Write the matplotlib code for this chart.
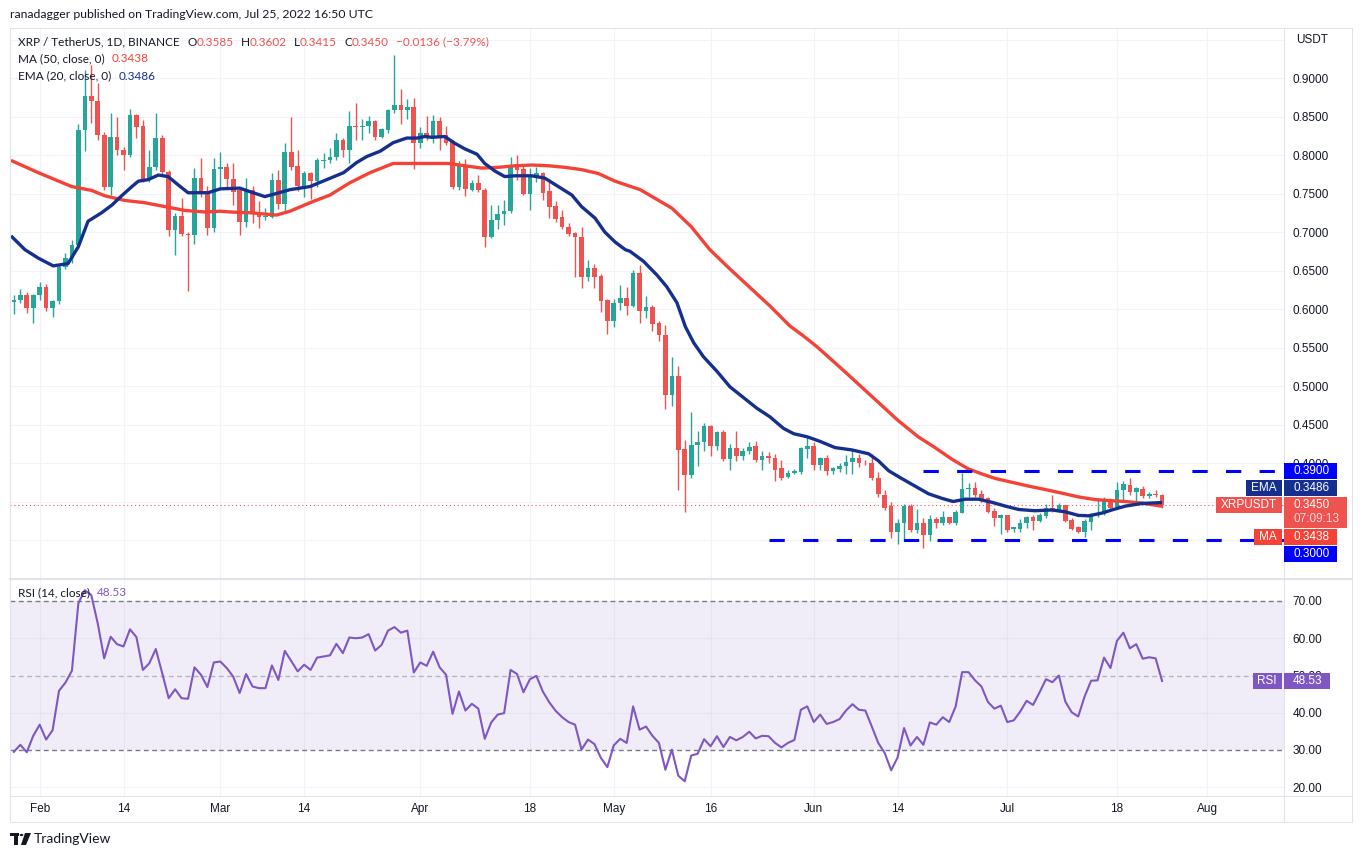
import numpy as np
import pandas as pd
import matplotlib
matplotlib.use("Agg")
import matplotlib.pyplot as plt
import matplotlib.dates as mdates
from matplotlib.patches import Rectangle, Polygon, Circle
from matplotlib.lines import Line2D

# ---------------- data ----------------
header = "ranadagger published on TradingView.com, Jul 25, 2022 16:50 UTC"
symbol_title = "XRP / TetherUS, 1D, BINANCE"
first_day = "2022-01-28"

opens = [0.609, 0.612, 0.618, 0.601,
         # Feb
         0.618, 0.629, 0.601, 0.611, 0.655, 0.666, 0.6835, 0.833, 0.877, 0.870,
         0.8255, 0.759, 0.823, 0.807, 0.800, 0.852, 0.838, 0.769, 0.784, 0.822,
         0.7775, 0.702, 0.721, 0.698, 0.696, 0.770, 0.7515, 0.705,
         # Mar
         0.782, 0.785, 0.769, 0.754, 0.7125, 0.754, 0.726, 0.719, 0.720, 0.767,
         0.736, 0.804, 0.786, 0.760, 0.776, 0.766, 0.792, 0.793, 0.797, 0.820,
         0.806, 0.838, 0.837, 0.838, 0.844, 0.824, 0.833, 0.858, 0.865, 0.858, 0.862,
         # Apr
         0.815, 0.828, 0.824, 0.844, 0.826, 0.817, 0.759, 0.787, 0.755, 0.763,
         0.755, 0.694, 0.716, 0.723, 0.727, 0.786, 0.782, 0.750, 0.770, 0.776,
         0.753, 0.734, 0.719, 0.707, 0.699, 0.694, 0.642, 0.653, 0.643, 0.612,
         # May
         0.584, 0.608, 0.614, 0.604, 0.6465, 0.598, 0.602, 0.582, 0.566, 0.488,
         0.513, 0.418, 0.385, 0.423, 0.427, 0.448, 0.422, 0.440, 0.405, 0.420,
         0.409, 0.415, 0.422, 0.404, 0.409, 0.406, 0.393, 0.382, 0.387, 0.388, 0.418,
         # Jun
         0.422, 0.398, 0.407, 0.390, 0.3926, 0.3956, 0.4016, 0.407, 0.400, 0.400,
         0.381, 0.359, 0.344, 0.311, 0.3216, 0.344, 0.313, 0.3216, 0.3065, 0.3276,
         0.3224, 0.3293, 0.3224, 0.3353, 0.3663, 0.368, 0.3594, 0.3543, 0.3375, 0.328,
         # Jul
         0.332, 0.3138, 0.3147, 0.3216, 0.330, 0.325, 0.331, 0.342, 0.339, 0.345,
         0.3258, 0.3164, 0.311, 0.3237, 0.332, 0.3336, 0.3508, 0.343, 0.3655, 0.372,
         0.3624, 0.3667, 0.357, 0.3594, 0.3585]

highs = [0.618, 0.626, 0.622, 0.620,
         0.635, 0.632, 0.612, 0.658, 0.673, 0.690, 0.840, 0.911, 0.917, 0.8935,
         0.830, 0.854, 0.849, 0.810, 0.860, 0.853, 0.845, 0.807, 0.855, 0.826,
         0.780, 0.725, 0.744, 0.700, 0.783, 0.796, 0.760, 0.796,
         0.804, 0.790, 0.790, 0.757, 0.770, 0.760, 0.740, 0.731, 0.776, 0.781,
         0.815, 0.849, 0.807, 0.779, 0.778, 0.796, 0.803, 0.809, 0.828, 0.822,
         0.857, 0.867, 0.847, 0.851, 0.846, 0.835, 0.860, 0.930, 0.886, 0.873, 0.874,
         0.836, 0.851, 0.852, 0.850, 0.838, 0.820, 0.792, 0.795, 0.768, 0.774,
         0.757, 0.735, 0.735, 0.742, 0.798, 0.800, 0.786, 0.783, 0.785, 0.778,
         0.769, 0.740, 0.729, 0.712, 0.700, 0.707, 0.664, 0.659, 0.646, 0.613,
         0.613, 0.631, 0.629, 0.651, 0.657, 0.617, 0.605, 0.585, 0.579, 0.538,
         0.526, 0.430, 0.466, 0.442, 0.452, 0.449, 0.441, 0.443, 0.425, 0.442,
         0.420, 0.427, 0.429, 0.415, 0.414, 0.412, 0.404, 0.391, 0.392, 0.421, 0.435,
         0.427, 0.408, 0.411, 0.395, 0.400, 0.410, 0.417, 0.412, 0.404, 0.412,
         0.388, 0.3646, 0.3495, 0.3267, 0.347, 0.347, 0.340, 0.328, 0.333, 0.330,
         0.338, 0.330, 0.3388, 0.387, 0.374, 0.375, 0.3646, 0.356, 0.341, 0.3336,
         0.333, 0.317, 0.3267, 0.331, 0.332, 0.3345, 0.347, 0.359, 0.348, 0.345,
         0.328, 0.318, 0.3267, 0.3353, 0.354, 0.356, 0.355, 0.375, 0.3767, 0.381,
         0.369, 0.370, 0.3624, 0.3655, 0.3602]

lows = [0.594, 0.608, 0.595, 0.582,
        0.612, 0.598, 0.590, 0.606, 0.652, 0.660, 0.678, 0.805, 0.842, 0.820,
        0.755, 0.748, 0.800, 0.780, 0.797, 0.822, 0.765, 0.765, 0.780, 0.775,
        0.695, 0.6705, 0.695, 0.623, 0.684, 0.745, 0.696, 0.700,
        0.759, 0.757, 0.735, 0.696, 0.706, 0.712, 0.705, 0.716, 0.718, 0.730,
        0.727, 0.780, 0.753, 0.746, 0.743, 0.759, 0.783, 0.790, 0.794, 0.797,
        0.790, 0.820, 0.820, 0.829, 0.820, 0.822, 0.828, 0.855, 0.840, 0.847, 0.782,
        0.809, 0.820, 0.815, 0.806, 0.813, 0.756, 0.754, 0.747, 0.753, 0.752,
        0.681, 0.692, 0.704, 0.709, 0.725, 0.767, 0.748, 0.728, 0.765, 0.742,
        0.718, 0.713, 0.704, 0.695, 0.642, 0.627, 0.636, 0.627, 0.596, 0.568,
        0.577, 0.599, 0.592, 0.602, 0.582, 0.588, 0.571, 0.558, 0.470, 0.474,
        0.365, 0.337, 0.380, 0.396, 0.416, 0.409, 0.417, 0.403, 0.391, 0.403,
        0.404, 0.412, 0.401, 0.391, 0.400, 0.376, 0.378, 0.380, 0.386, 0.386, 0.406,
        0.391, 0.391, 0.385, 0.386, 0.388, 0.386, 0.386, 0.395, 0.397, 0.3775,
        0.356, 0.339, 0.302, 0.295, 0.300, 0.311, 0.3086, 0.289, 0.299, 0.315,
        0.320, 0.321, 0.320, 0.3353, 0.356, 0.356, 0.3495, 0.335, 0.318, 0.3078,
        0.311, 0.310, 0.310, 0.316, 0.313, 0.323, 0.329, 0.337, 0.337, 0.323,
        0.313, 0.3095, 0.3035, 0.313, 0.330, 0.332, 0.340, 0.342, 0.3525, 0.359,
        0.3495, 0.355, 0.355, 0.356, 0.3415]

closes = [0.612, 0.618, 0.601, 0.618,
          0.629, 0.601, 0.611, 0.655, 0.666, 0.6835, 0.833, 0.877, 0.870, 0.8255,
          0.759, 0.823, 0.806, 0.800, 0.852, 0.837, 0.769, 0.785, 0.822, 0.7775,
          0.702, 0.721, 0.698, 0.696, 0.770, 0.7515, 0.705, 0.782,
          0.785, 0.769, 0.7515, 0.7125, 0.754, 0.724, 0.720, 0.721, 0.767, 0.736,
          0.804, 0.785, 0.760, 0.776, 0.766, 0.793, 0.794, 0.798, 0.820, 0.806,
          0.838, 0.837, 0.838, 0.844, 0.824, 0.834, 0.859, 0.865, 0.858, 0.862, 0.815,
          0.828, 0.824, 0.844, 0.825, 0.816, 0.759, 0.787, 0.756, 0.763, 0.754,
          0.694, 0.716, 0.724, 0.7275, 0.786, 0.781, 0.750, 0.771, 0.776, 0.751,
          0.733, 0.717, 0.706, 0.698, 0.693, 0.642, 0.653, 0.642, 0.611, 0.584,
          0.608, 0.614, 0.604, 0.6465, 0.598, 0.602, 0.581, 0.566, 0.488, 0.513,
          0.417, 0.385, 0.424, 0.427, 0.448, 0.422, 0.440, 0.405, 0.420, 0.409,
          0.415, 0.421, 0.404, 0.409, 0.406, 0.391, 0.381, 0.387, 0.390, 0.420, 0.422,
          0.398, 0.407, 0.390, 0.393, 0.3956, 0.4016, 0.407, 0.400, 0.3995, 0.381,
          0.360, 0.342, 0.311, 0.3216, 0.344, 0.313, 0.3216, 0.3065, 0.327, 0.3224,
          0.3293, 0.3224, 0.336, 0.3667, 0.3676, 0.3586, 0.3525, 0.3366, 0.328, 0.332,
          0.313, 0.3164, 0.3224, 0.330, 0.325, 0.3323, 0.342, 0.338, 0.345, 0.325,
          0.3147, 0.3108, 0.3245, 0.3336, 0.3336, 0.353, 0.342, 0.3655, 0.3732, 0.3624,
          0.3676, 0.3568, 0.3594, 0.3586, 0.3450]

rsi = [29.5, 31.4, 29.4, 33.8,
       36.8, 32.8, 35.3, 45.9, 48.1, 51.3, 69.4, 72.9, 71.6, 64.0,
       54.6, 60.4, 58.4, 57.8, 62.4, 60.3, 51.5, 53.3, 57.1, 50.6,
       43.9, 46.3, 43.9, 43.75, 52.2, 50.2, 46.9, 53.5,
       53.75, 52.0, 49.7, 45.3, 50.4, 47.05, 46.6, 46.6, 52.7, 48.8,
       56.6, 53.9, 51.1, 52.9, 51.5, 54.8, 55.1, 55.4, 58.5, 56.0,
       60.2, 60.0, 60.2, 61.1, 56.7, 58.2, 62.05, 63.0, 61.5, 62.05, 50.8,
       53.5, 52.6, 56.4, 52.2, 50.2, 39.7, 45.7, 40.6, 42.4, 41.1,
       33.0, 37.4, 39.5, 39.9, 51.5, 50.4, 45.5, 49.0, 49.9, 45.7,
       42.8, 40.5, 38.8, 37.5, 36.8, 30.1, 32.8, 31.6, 27.9, 25.4,
       31.25, 33.0, 31.9, 41.7, 35.45, 36.3, 33.8, 31.9, 24.7, 30.1,
       23.1, 21.6, 28.5, 29.0, 32.9, 31.0, 33.7, 30.8, 33.5, 32.6,
       33.5, 34.9, 33.1, 33.8, 33.7, 31.9, 30.7, 31.9, 32.7, 40.8, 41.7,
       37.5, 39.5, 37.0, 37.5, 38.3, 40.6, 42.3, 40.8, 40.6, 36.3,
       31.9, 29.2, 24.55, 28.0, 35.9, 31.2, 33.5, 31.4, 37.4, 36.8,
       38.8, 37.5, 41.7, 50.9, 50.9, 48.7, 47.05, 42.9, 41.1, 41.9,
       37.5, 37.95, 40.3, 43.2, 42.1, 45.45, 49.0, 48.2, 50.0, 43.0,
       40.1, 39.0, 44.4, 48.6, 48.7, 54.8, 52.0, 59.3, 61.5, 57.3,
       58.4, 54.5, 54.9, 54.6, 48.53]

# moving averages (day offsets from 2022-02-01)
ma_day = [-4.45, -0.2, 4.96, 8.06, 10.1, 13.2, 16.3, 19.4, 22.5, 25.6,
          28.0, 29.5, 32.6, 36.7, 38.8, 41.9, 45.0, 48.1, 51.2, 54.8,
          57.4, 59.7, 61.3, 63.4, 65.9, 68.5, 71.1, 73.7, 76.3, 78.9,
          81.4, 84.0, 86.6, 89.2, 91.3, 93.1, 98.0, 101.0, 103.9, 107.0,
          110.1, 113.2, 116.3, 118.4, 120.5, 122.5, 124.9, 133.1, 136.2, 138.8,
          141.4, 143.9, 146.0, 148.1, 150.7, 153.3, 155.9, 158.4, 161.0, 163.6,
          166.2, 168.3, 170.8, 174.0]
ma_val = [0.793, 0.777, 0.759, 0.754, 0.747, 0.741, 0.738, 0.733, 0.728, 0.726,
          0.727, 0.726, 0.725, 0.722, 0.727, 0.738, 0.748, 0.764, 0.777, 0.789,
          0.789, 0.789, 0.789, 0.789, 0.786, 0.783, 0.784, 0.786, 0.787, 0.786,
          0.784, 0.781, 0.776, 0.766, 0.760, 0.755, 0.731, 0.707, 0.677, 0.652,
          0.628, 0.604, 0.578, 0.565, 0.551, 0.536, 0.518, 0.455, 0.434, 0.420,
          0.405, 0.3926, 0.386, 0.380, 0.375, 0.370, 0.3655, 0.361, 0.356, 0.3525,
          0.351, 0.350, 0.348, 0.3438]

ema_day = [-4.45, -2.28, -0.2, 2.1, 4.4, 6.0, 7.5, 9.6, 11.2, 12.7,
           14.3, 15.3, 16.8, 18.4, 19.9, 21.5, 23.0, 24.6, 26.1, 28.0,
           31.0, 33.1, 34.9, 36.7, 38.8, 41.9, 44.5, 47.1, 49.1, 50.7,
           52.8, 54.8, 56.9, 58.5, 59.7, 60.8, 62.8, 64.4, 65.9, 67.8,
           69.0, 70.6, 72.1, 73.7, 76.3, 78.3, 80.4, 82.5, 84.0, 86.1,
           87.6, 89.2, 90.8, 91.5, 93.6, 95.7, 97.2, 98.8, 100.1, 101.4,
           102.9, 105.0, 107.0, 109.1, 111.2, 113.2, 115.3, 116.9, 119.0, 121.0,
           123.3, 125.9, 128.5, 130.0, 131.6, 133.6, 135.7, 137.8, 139.9, 141.6,
           143.5, 145.5, 147.6, 149.7, 151.8, 154.3, 156.9, 159.0, 161.0, 162.6,
           164.7, 166.2, 168.3, 170.9, 174.0]
ema_val = [0.695, 0.677, 0.666, 0.656, 0.659, 0.681, 0.714, 0.725, 0.735, 0.747,
           0.759, 0.766, 0.768, 0.774, 0.772, 0.761, 0.751, 0.751, 0.751, 0.756,
           0.757, 0.751, 0.746, 0.750, 0.755, 0.759, 0.768, 0.777, 0.790, 0.798,
           0.805, 0.816, 0.822, 0.822, 0.824, 0.823, 0.824, 0.815, 0.808, 0.801,
           0.789, 0.779, 0.772, 0.773, 0.773, 0.770, 0.759, 0.748, 0.733, 0.718,
           0.700, 0.687, 0.677, 0.675, 0.662, 0.644, 0.629, 0.608, 0.577, 0.556,
           0.538, 0.519, 0.499, 0.485, 0.471, 0.460, 0.445, 0.438, 0.434, 0.428,
           0.420, 0.417, 0.412, 0.403, 0.390, 0.380, 0.370, 0.360, 0.354, 0.350,
           0.353, 0.353, 0.349, 0.344, 0.3396, 0.338, 0.339, 0.3366, 0.332, 0.3314,
           0.335, 0.339, 0.344, 0.3475, 0.3486]

resistance = 0.39
resistance_from = "2022-06-18"
support = 0.30
support_from = "2022-05-25"
countdown = "07:09:13"

tick_dates = ["2022-02-01", "2022-02-14", "2022-03-01", "2022-03-14", "2022-04-01",
              "2022-04-18", "2022-05-01", "2022-05-16", "2022-06-01", "2022-06-14",
              "2022-07-01", "2022-07-18", "2022-08-01"]
tick_labels = ["Feb", "14", "Mar", "14", "Apr", "18", "May", "16", "Jun", "14",
               "Jul", "18", "Aug"]
price_ticks = [0.30, 0.35, 0.40, 0.45, 0.50, 0.55, 0.60, 0.65, 0.70, 0.75, 0.80, 0.85, 0.90]
hidden_price_ticks = [0.30, 0.35]   # fully covered by the price-axis labels
rsi_ticks = [20, 30, 40, 50, 60, 70]

# ---------------- style ----------------
W, H = 1362, 857
TXT = "#131722"
GRID = "#f0f3fa"
BORDER = "#e0e3eb"
UP, DN = "#26a69a", "#ef5350"
MA_C, EMA_C = "#f44336", "#152f8f"
LVL = "#0000ff"
RSI_C = "#7e57c2"
FONT = "Lato"
AXF = "Liberation Sans"
LEG = 8.5

PL, PR, FR = 10, 1284, 1352
MT, MB = 28, 578
RT, RB = 579, 796
TB = 822


def fx(px):
    return px / W


def fy(py):
    return 1 - py / H


fig = plt.figure(figsize=(W / 100, H / 100), dpi=100)
fig.patch.set_facecolor("white")
ax = fig.add_axes([fx(PL), fy(MB), (PR - PL) / W, (MB - MT) / H])
axr = fig.add_axes([fx(PL), fy(RB), (PR - PL) / W, (RB - RT) / H])

dates = pd.date_range(first_day, periods=len(closes), freq="D")
x = mdates.date2num(dates)
base = mdates.date2num(pd.Timestamp("2022-02-01"))
o, h, l, c = map(np.array, (opens, highs, lows, closes))

xl = (base - 4.6, base + 192.9)
for a in (ax, axr):
    a.set_xlim(*xl)
    a.set_facecolor("white")
    for s in a.spines.values():
        s.set_visible(False)
ax.set_ylim(0.30 - (MB - 540) / 770, 0.30 + (540 - MT) / 770)
axr.set_ylim(30 - (RB - 750) / 3.725, 70 + (601 - RT) / 3.725)

# grid
tdx = mdates.date2num(pd.to_datetime(tick_dates))
for d in tdx:
    ax.axvline(d, color=GRID, lw=0.75, zorder=0)
    axr.axvline(d, color=GRID, lw=0.75, zorder=0)
for v in price_ticks + [0.95]:
    ax.axhline(v, color=GRID, lw=0.75, zorder=0)
for v in (20, 40, 60):
    axr.axhline(v, color=GRID, lw=0.75, zorder=0)

# candles
cols = np.where(c >= o, UP, DN)
ax.vlines(x, l, h, colors=cols, lw=1.0, zorder=3)
body = np.maximum(np.abs(c - o), 0.0009)
ax.bar(x, body, bottom=np.minimum(o, c), width=0.72, color=cols, lw=0, zorder=4)

# averages
ax.plot(base + np.array(ma_day), ma_val, color=MA_C, lw=2.4, zorder=5,
        solid_joinstyle="round", solid_capstyle="butt")
ax.plot(base + np.array(ema_day), ema_val, color=EMA_C, lw=2.4, zorder=6,
        solid_joinstyle="round", solid_capstyle="butt")

# current price line and levels
ax.axhline(c[-1], color=DN, lw=0.8, ls=(0, (1, 2.5)), zorder=2)
rx0 = mdates.date2num(pd.Timestamp(resistance_from))
sx0 = mdates.date2num(pd.Timestamp(support_from))
ax.plot([rx0, xl[1]], [resistance, resistance], color=LVL, lw=2.2, ls=(0, (5, 6)),
        zorder=7, dash_capstyle="butt")
ax.plot([sx0, xl[1]], [support, support], color=LVL, lw=2.2, ls=(0, (5, 6)),
        zorder=7, dash_capstyle="butt")

# price axis
ax.yaxis.tick_right()
ax.set_yticks(price_ticks)
ax.set_yticklabels(["" if v in hidden_price_ticks else f"{v:.4f}" for v in price_ticks])
ax.tick_params(axis="y", length=0, pad=6, labelsize=8.5, labelcolor=TXT)
ax.set_xticks([])
for t in ax.get_yticklabels():
    t.set_family(AXF)

# RSI pane
axr.axhspan(30, 70, color=RSI_C, alpha=0.1, lw=0, zorder=0.5)
axr.axhline(70, color="#787b86", lw=1, ls=(0, (3.5, 2.5)), zorder=1)
axr.axhline(30, color="#787b86", lw=1, ls=(0, (3.5, 2.5)), zorder=1)
axr.axhline(50, color="#b2b5be", lw=1, ls=(0, (3.5, 2.5)), zorder=1)
axr.plot(x, rsi, color=RSI_C, lw=1.5, zorder=3)
axr.yaxis.tick_right()
axr.set_yticks(rsi_ticks)
axr.set_yticklabels([f"{v:.2f}" for v in rsi_ticks])
axr.tick_params(axis="y", length=0, pad=6, labelsize=8.5, labelcolor=TXT)
axr.set_xticks(tdx)
axr.set_xticklabels(tick_labels)
axr.tick_params(axis="x", length=0, pad=5, labelsize=8.5, labelcolor=TXT)
for t in axr.get_yticklabels() + axr.get_xticklabels():
    t.set_family(AXF)


# frame lines
def hline(y, x0=PL, x1=FR, lw=0.75):
    fig.add_artist(Line2D([fx(x0), fx(x1)], [fy(y), fy(y)], transform=fig.transFigure,
                          color=BORDER, lw=lw, zorder=1))


def vline(xp, y0=MT, y1=TB, lw=0.75):
    fig.add_artist(Line2D([fx(xp), fx(xp)], [fy(y0), fy(y1)], transform=fig.transFigure,
                          color=BORDER, lw=lw, zorder=1))


hline(MT); hline(MB + 0.5, lw=1.5); hline(RB); hline(TB)
vline(PL); vline(PR); vline(FR)

renderer = fig.canvas.get_renderer()


def chain(xp, yp, parts, size=LEG, family=FONT):
    for txt, col, gap in parts:
        t = fig.text(fx(xp), fy(yp), txt, color=col, fontsize=size, family=family,
                     va="center", ha="left", zorder=12)
        xp += t.get_window_extent(renderer).width + gap
    return xp


fig.text(fx(10), fy(15), header, color=TXT, fontsize=8.8, family=FONT, va="center", ha="left")

chg = c[-1] - c[-2]
pct = chg / c[-2] * 100
fmt = lambda v: f"{v:.4f}".replace("-", "\u2212")
chain(18, 42, [(symbol_title, TXT, 8), ("O", TXT, 0), (fmt(o[-1]), DN, 7),
               ("H", TXT, 0), (fmt(h[-1]), DN, 7), ("L", TXT, 0), (fmt(l[-1]), DN, 7),
               ("C", TXT, 0), (fmt(c[-1]), DN, 7),
               (f"{fmt(chg)} ({pct:.2f}%)".replace("-", "\u2212"), DN, 0)])
chain(18, 59, [("MA (50, close, 0)", TXT, 7), (fmt(ma_val[-1]), MA_C, 0)])
chain(18, 76, [("EMA (20, close, 0)", TXT, 7), (fmt(ema_val[-1]), EMA_C, 0)])
chain(18, 593, [("RSI (14, close)", TXT, 7), (f"{rsi[-1]:.2f}", RSI_C, 0)])

fig.text(fx(1296), fy(40), "USDT", color=TXT, fontsize=8.5, family=AXF, va="center", ha="left")


# price-axis label boxes
def rect(x0, x1, y0, y1, color):
    fig.add_artist(Rectangle((fx(x0), fy(y1)), (x1 - x0) / W, (y1 - y0) / H,
                             transform=fig.transFigure, facecolor=color, lw=0, zorder=10))


def name_box(name, yc, color):
    t = fig.text(fx(1277), fy(yc), name, color="white", fontsize=8.5, family=AXF,
                 va="center", ha="right", zorder=11)
    w = t.get_window_extent(renderer).width
    rect(1282 - w - 10, 1282, yc - 8, yc + 8, color)


def ypix(axis, v):
    return H - axis.transData.transform((xl[0], v))[1]


yp = ypix(ax, c[-1])
labels = [
    dict(v=resistance, name=None, color=LVL),
    dict(v=ema_val[-1], name="EMA", color=EMA_C),
    dict(v=ma_val[-1], name="MA", color=MA_C),
    dict(v=support, name=None, color=LVL),
]
for d in labels:
    d["y"] = ypix(ax, d["v"])
above = sorted([d for d in labels if d["y"] < yp], key=lambda d: -d["y"])
below = sorted([d for d in labels if d["y"] >= yp], key=lambda d: d["y"])
top = yp - 8
for d in above:
    d["y"] = min(d["y"], top - 1 - 8)
    top = d["y"] - 8
bot = yp + 23
for d in below:
    d["y"] = max(d["y"], bot + 1 + 8)
    bot = d["y"] + 8

for d in labels:
    rect(PR, 1337, d["y"] - 8, d["y"] + 8, d["color"])
    fig.text(fx(1293), fy(d["y"]), f"{d['v']:.4f}", color="white", fontsize=8.5,
             family=AXF, va="center", ha="left", zorder=11)
    if d["name"]:
        name_box(d["name"], d["y"], d["color"])

rect(PR, 1347, yp - 8, yp + 23, DN)
fig.text(fx(1293), fy(yp), f"{c[-1]:.4f}", color="white", fontsize=8.5, family=AXF,
         va="center", ha="left", zorder=11)
fig.text(fx(1293), fy(yp + 14), countdown, color="#ffd9d9", fontsize=8.5, family=AXF,
         va="center", ha="left", zorder=11)
name_box("XRPUSDT", yp, DN)

yr = ypix(axr, rsi[-1])
rect(PR, 1330, yr - 8, yr + 8, RSI_C)
fig.text(fx(1293), fy(yr), f"{rsi[-1]:.2f}", color="white", fontsize=8.5, family=AXF,
         va="center", ha="left", zorder=11)
name_box("RSI", yr, RSI_C)

# TradingView logo and name
fig.add_artist(Rectangle((fx(10), fy(836)), 9 / W, 3 / H, transform=fig.transFigure,
                         facecolor=TXT, lw=0))
fig.add_artist(Rectangle((fx(14), fy(845)), 4 / W, 12 / H, transform=fig.transFigure,
                         facecolor=TXT, lw=0))
fig.add_artist(Circle((fx(21.5), fy(835)), 1.8 / W, transform=fig.transFigure,
                      facecolor=TXT, lw=0))
fig.add_artist(Polygon([(fx(25), fy(833)), (fx(31), fy(833)), (fx(26), fy(845)), (fx(21), fy(845))],
                       closed=True, transform=fig.transFigure, facecolor=TXT, lw=0))
fig.text(fx(34), fy(839), "TradingView", color=TXT, fontsize=10, family=FONT,
         va="center", ha="left")

fig.savefig("out.png", dpi=100, facecolor="white")
